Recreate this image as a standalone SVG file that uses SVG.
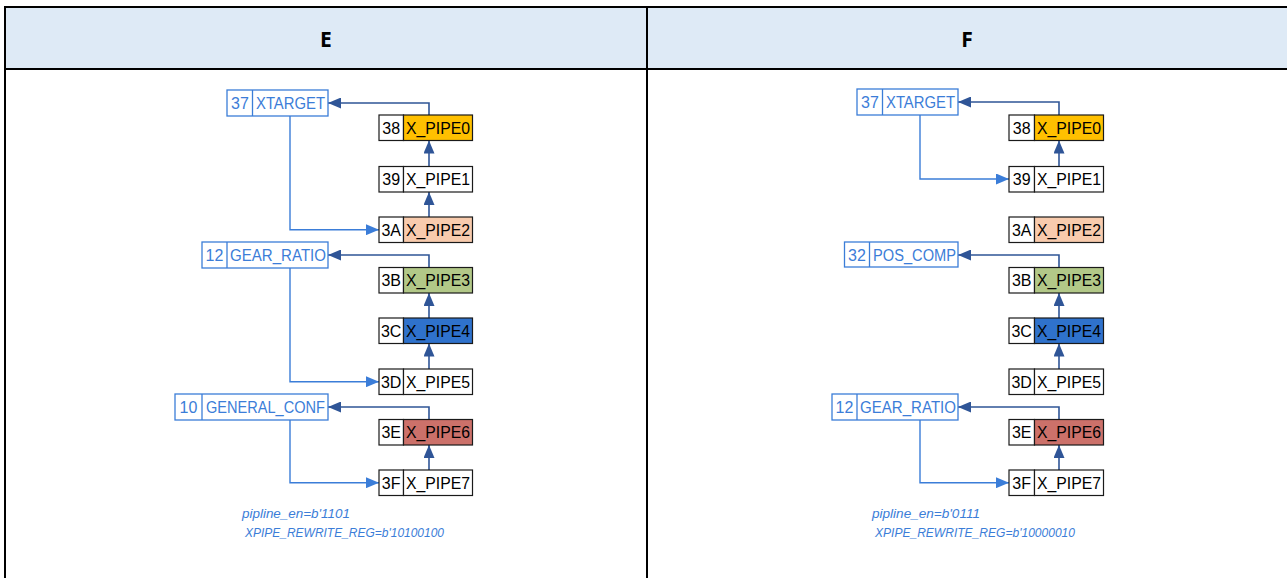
<svg xmlns="http://www.w3.org/2000/svg" width="1287" height="578" viewBox="0 0 1287 578">
<defs>
<style>
.hdr{fill:#DEEAF6}
.bd{stroke:#000;stroke-width:2;fill:none}
.ht{font-family:"Open Sans","Liberation Sans",sans-serif;font-weight:bold;font-size:21px;fill:#000;text-anchor:middle}
.pn{stroke:#1a1a1a;stroke-width:1.2}
.pt{font-family:"Liberation Sans",Arial,sans-serif;font-size:16px;fill:#000}
.bn{stroke:#3B7DD8;stroke-width:1.3;fill:#fff}
.bt{font-family:"Liberation Sans",Arial,sans-serif;font-size:16px;fill:#3B7DD8}
.dk{stroke:#2F5597;stroke-width:1.6;fill:none}
.lt{stroke:#3B7DD8;stroke-width:1.4;fill:none}
.nt{font-family:"Liberation Sans",Arial,sans-serif;font-size:12.5px;font-style:italic;fill:#3B7DD8}
</style>
<marker id="ad" viewBox="0 0 13 11" refX="13" refY="5.5" markerWidth="13" markerHeight="11" markerUnits="userSpaceOnUse" orient="auto"><path d="M0,0 L13,5.5 L0,11 z" fill="#2F5597"/></marker>
<marker id="al" viewBox="0 0 13 11" refX="13" refY="5.5" markerWidth="13" markerHeight="11" markerUnits="userSpaceOnUse" orient="auto"><path d="M0,0 L13,5.5 L0,11 z" fill="#3B7DD8"/></marker>
</defs>
<g id="table">
<rect class="hdr" x="5" y="7" width="1282" height="62"/>
<path class="bd" d="M5,600 V7 H1290 M5,69 H1290 M647,7 V600"/>
<text class="ht" x="326" y="47">E</text>
<text class="ht" x="967" y="47">F</text>
</g>
<g id="connectors">
<path class="dk" marker-end="url(#ad)" d="M429,115 V103 H328"/>
<path class="dk" marker-end="url(#ad)" d="M429,166.5 V140.5"/>
<path class="dk" marker-end="url(#ad)" d="M429,217 V192"/>
<path class="dk" marker-end="url(#ad)" d="M429,267.5 V255 H328"/>
<path class="dk" marker-end="url(#ad)" d="M429,318 V293"/>
<path class="dk" marker-end="url(#ad)" d="M429,369 V343.5"/>
<path class="dk" marker-end="url(#ad)" d="M429,419.5 V407 H328"/>
<path class="dk" marker-end="url(#ad)" d="M429,470 V445"/>
<path class="lt" marker-end="url(#al)" d="M290,116 V229.7 H379"/>
<path class="lt" marker-end="url(#al)" d="M290,268 V381.7 H379"/>
<path class="lt" marker-end="url(#al)" d="M290,420 V482.7 H379"/>
<path class="dk" marker-end="url(#ad)" d="M1059,115 V102 H958"/>
<path class="dk" marker-end="url(#ad)" d="M1059,166.5 V140.5"/>
<path class="dk" marker-end="url(#ad)" d="M1059,267.5 V255 H958"/>
<path class="dk" marker-end="url(#ad)" d="M1059,318 V293"/>
<path class="dk" marker-end="url(#ad)" d="M1059,369 V343.5"/>
<path class="dk" marker-end="url(#ad)" d="M1059,419.5 V407 H958"/>
<path class="dk" marker-end="url(#ad)" d="M1059,470 V445"/>
<path class="lt" marker-end="url(#al)" d="M920,115 V179 H1009"/>
<path class="lt" marker-end="url(#al)" d="M920,420 V482.7 H1009"/>
</g>
<g id="e_xtarget"><rect class="bn" x="227" y="90" width="101" height="26"/><line class="bn" x1="252.5" y1="90" x2="252.5" y2="116"/><text class="bt" x="240" y="109" text-anchor="middle">37</text><text class="bt" x="256" y="109" textLength="69" lengthAdjust="spacingAndGlyphs">XTARGET</text></g>
<g id="e_gear"><rect class="bn" x="202" y="242" width="126" height="26"/><line class="bn" x1="227" y1="242" x2="227" y2="268"/><text class="bt" x="214.5" y="261" text-anchor="middle">12</text><text class="bt" x="230" y="261" textLength="96" lengthAdjust="spacingAndGlyphs">GEAR_RATIO</text></g>
<g id="e_genconf"><rect class="bn" x="175" y="394" width="153" height="26"/><line class="bn" x1="202" y1="394" x2="202" y2="420"/><text class="bt" x="188.5" y="413" text-anchor="middle">10</text><text class="bt" x="206" y="413" textLength="119" lengthAdjust="spacingAndGlyphs">GENERAL_CONF</text></g>
<g id="e_38"><rect class="pn" x="379" y="115" width="24.5" height="25.5" fill="#fff"/><rect class="pn" x="403.5" y="115" width="69" height="25.5" fill="#FFC000"/><text class="pt" x="391.2" y="133.5" text-anchor="middle">38</text><text class="pt" x="406" y="133.5" textLength="64" lengthAdjust="spacingAndGlyphs">X_PIPE0</text></g>
<g id="e_39"><rect class="pn" x="379" y="166.5" width="24.5" height="25.5" fill="#fff"/><rect class="pn" x="403.5" y="166.5" width="69" height="25.5" fill="#fff"/><text class="pt" x="391.2" y="185" text-anchor="middle">39</text><text class="pt" x="406" y="185" textLength="64" lengthAdjust="spacingAndGlyphs">X_PIPE1</text></g>
<g id="e_3a"><rect class="pn" x="379" y="217" width="24.5" height="25.5" fill="#fff"/><rect class="pn" x="403.5" y="217" width="69" height="25.5" fill="#F8CBAD"/><text class="pt" x="391.2" y="235.5" text-anchor="middle">3A</text><text class="pt" x="406" y="235.5" textLength="64" lengthAdjust="spacingAndGlyphs">X_PIPE2</text></g>
<g id="e_3b"><rect class="pn" x="379" y="267.5" width="24.5" height="25.5" fill="#fff"/><rect class="pn" x="403.5" y="267.5" width="69" height="25.5" fill="#B2C888"/><text class="pt" x="391.2" y="286" text-anchor="middle">3B</text><text class="pt" x="406" y="286" textLength="64" lengthAdjust="spacingAndGlyphs">X_PIPE3</text></g>
<g id="e_3c"><rect class="pn" x="379" y="318" width="24.5" height="25.5" fill="#fff"/><rect class="pn" x="403.5" y="318" width="69" height="25.5" fill="#2F72CC"/><text class="pt" x="391.2" y="336.5" text-anchor="middle">3C</text><text class="pt" x="406" y="336.5" textLength="64" lengthAdjust="spacingAndGlyphs">X_PIPE4</text></g>
<g id="e_3d"><rect class="pn" x="379" y="369" width="24.5" height="25.5" fill="#fff"/><rect class="pn" x="403.5" y="369" width="69" height="25.5" fill="#fff"/><text class="pt" x="391.2" y="387.5" text-anchor="middle">3D</text><text class="pt" x="406" y="387.5" textLength="64" lengthAdjust="spacingAndGlyphs">X_PIPE5</text></g>
<g id="e_3e"><rect class="pn" x="379" y="419.5" width="24.5" height="25.5" fill="#fff"/><rect class="pn" x="403.5" y="419.5" width="69" height="25.5" fill="#CC716A"/><text class="pt" x="391.2" y="438" text-anchor="middle">3E</text><text class="pt" x="406" y="438" textLength="64" lengthAdjust="spacingAndGlyphs">X_PIPE6</text></g>
<g id="e_3f"><rect class="pn" x="379" y="470" width="24.5" height="25.5" fill="#fff"/><rect class="pn" x="403.5" y="470" width="69" height="25.5" fill="#fff"/><text class="pt" x="391.2" y="488.5" text-anchor="middle">3F</text><text class="pt" x="406" y="488.5" textLength="64" lengthAdjust="spacingAndGlyphs">X_PIPE7</text></g>
<g id="e_notes"><text class="nt" x="242" y="518" textLength="108" lengthAdjust="spacingAndGlyphs">pipline_en=b'1101</text><text class="nt" x="245" y="537" textLength="199" lengthAdjust="spacingAndGlyphs">XPIPE_REWRITE_REG=b'10100100</text></g>
<g id="f_xtarget"><rect class="bn" x="857" y="89" width="101" height="26"/><line class="bn" x1="882.5" y1="89" x2="882.5" y2="115"/><text class="bt" x="870" y="108" text-anchor="middle">37</text><text class="bt" x="886" y="108" textLength="69" lengthAdjust="spacingAndGlyphs">XTARGET</text></g>
<g id="f_poscomp"><rect class="bn" x="844.5" y="242" width="113.5" height="25"/><line class="bn" x1="869.5" y1="242" x2="869.5" y2="267"/><text class="bt" x="857" y="260.5" text-anchor="middle">32</text><text class="bt" x="873" y="260.5" textLength="83" lengthAdjust="spacingAndGlyphs">POS_COMP</text></g>
<g id="f_gear"><rect class="bn" x="832" y="394" width="126" height="26"/><line class="bn" x1="857" y1="394" x2="857" y2="420"/><text class="bt" x="844.5" y="413" text-anchor="middle">12</text><text class="bt" x="860" y="413" textLength="96" lengthAdjust="spacingAndGlyphs">GEAR_RATIO</text></g>
<g id="f_38"><rect class="pn" x="1009" y="115" width="25.5" height="25.5" fill="#fff"/><rect class="pn" x="1034.5" y="115" width="69" height="25.5" fill="#FFC000"/><text class="pt" x="1021.7" y="133.5" text-anchor="middle">38</text><text class="pt" x="1037" y="133.5" textLength="64" lengthAdjust="spacingAndGlyphs">X_PIPE0</text></g>
<g id="f_39"><rect class="pn" x="1009" y="166.5" width="25.5" height="25.5" fill="#fff"/><rect class="pn" x="1034.5" y="166.5" width="69" height="25.5" fill="#fff"/><text class="pt" x="1021.7" y="185" text-anchor="middle">39</text><text class="pt" x="1037" y="185" textLength="64" lengthAdjust="spacingAndGlyphs">X_PIPE1</text></g>
<g id="f_3a"><rect class="pn" x="1009" y="217" width="25.5" height="25.5" fill="#fff"/><rect class="pn" x="1034.5" y="217" width="69" height="25.5" fill="#F8CBAD"/><text class="pt" x="1021.7" y="235.5" text-anchor="middle">3A</text><text class="pt" x="1037" y="235.5" textLength="64" lengthAdjust="spacingAndGlyphs">X_PIPE2</text></g>
<g id="f_3b"><rect class="pn" x="1009" y="267.5" width="25.5" height="25.5" fill="#fff"/><rect class="pn" x="1034.5" y="267.5" width="69" height="25.5" fill="#B2C888"/><text class="pt" x="1021.7" y="286" text-anchor="middle">3B</text><text class="pt" x="1037" y="286" textLength="64" lengthAdjust="spacingAndGlyphs">X_PIPE3</text></g>
<g id="f_3c"><rect class="pn" x="1009" y="318" width="25.5" height="25.5" fill="#fff"/><rect class="pn" x="1034.5" y="318" width="69" height="25.5" fill="#2F72CC"/><text class="pt" x="1021.7" y="336.5" text-anchor="middle">3C</text><text class="pt" x="1037" y="336.5" textLength="64" lengthAdjust="spacingAndGlyphs">X_PIPE4</text></g>
<g id="f_3d"><rect class="pn" x="1009" y="369" width="25.5" height="25.5" fill="#fff"/><rect class="pn" x="1034.5" y="369" width="69" height="25.5" fill="#fff"/><text class="pt" x="1021.7" y="387.5" text-anchor="middle">3D</text><text class="pt" x="1037" y="387.5" textLength="64" lengthAdjust="spacingAndGlyphs">X_PIPE5</text></g>
<g id="f_3e"><rect class="pn" x="1009" y="419.5" width="25.5" height="25.5" fill="#fff"/><rect class="pn" x="1034.5" y="419.5" width="69" height="25.5" fill="#CC716A"/><text class="pt" x="1021.7" y="438" text-anchor="middle">3E</text><text class="pt" x="1037" y="438" textLength="64" lengthAdjust="spacingAndGlyphs">X_PIPE6</text></g>
<g id="f_3f"><rect class="pn" x="1009" y="470" width="25.5" height="25.5" fill="#fff"/><rect class="pn" x="1034.5" y="470" width="69" height="25.5" fill="#fff"/><text class="pt" x="1021.7" y="488.5" text-anchor="middle">3F</text><text class="pt" x="1037" y="488.5" textLength="64" lengthAdjust="spacingAndGlyphs">X_PIPE7</text></g>
<g id="f_notes"><text class="nt" x="872" y="518" textLength="108" lengthAdjust="spacingAndGlyphs">pipline_en=b'0111</text><text class="nt" x="875" y="537" textLength="200" lengthAdjust="spacingAndGlyphs">XPIPE_REWRITE_REG=b'10000010</text></g>
</svg>
